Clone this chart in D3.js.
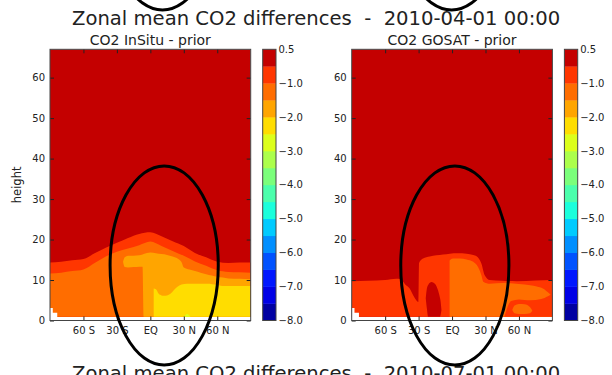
<!DOCTYPE html>
<html>
<head>
<meta charset="utf-8">
<script src="https://cdn.jsdelivr.net/npm/d3@7"></script>
<style>
  body { margin: 0; background: #fff; }
  svg { display: block; font-family: "DejaVu Sans", sans-serif; }
</style>
</head>
<body>
<svg id="chart" width="612" height="375"></svg>
<script>
// ---- values ----
const levels = [-8.0, -7.5, -7.0, -6.5, -6.0, -5.5, -5.0, -4.5, -4.0, -3.5, -3.0, -2.5, -2.0, -1.5, -1.0, -0.5, 0.5];
const cbTicks = [-8, -7, -6, -5, -4, -3, -2, -1, 0.5];
const latTicks = [-60, -30, 0, 30, 60];
const latTickLabels = ['60 S', '30 S', 'EQ', '30 N', '60 N'];
const heightTicks = [0, 10, 20, 30, 40, 50, 60];
const titles = ['Zonal mean CO2 differences  -  2010-04-01 00:00', 'Zonal mean CO2 differences  -  2010-07-01 00:00'];
const panelTitles = ['CO2 InSitu - prior', 'CO2 GOSAT - prior'];

// layer index in levels (layer i spans levels[i]..levels[i+1])
const DARK_RED = 15, RED_ORANGE = 14, ORANGE = 13, LIGHT_ORANGE = 12, YELLOW = 11, YELLOW_GREEN = 10;

const dataBottom = 0.9;
const maskLat = [-90, -87.5, -83.5];     // missing data near the ground (antarctica)
const maskTop = [3.1, 1.9, 1.9];

// InSitu - prior: heights of the colour boundaries
const insituLat = [-90, -80, -70, -60, -50, -40, -30, -20, -10, 0, 10, 20, 30, 40, 50, 60, 70, 80, 90];
const insituTop05 = [14.3, 14.5, 14.9, 15.2, 16.6, 18.0, 19.2, 20.4, 21.4, 21.8, 20.8, 19.6, 18.4, 16.7, 15.6, 14.5, 14.2, 14.3, 14.3];
const insituTop10 = [11.6, 11.8, 12.2, 12.6, 14.2, 15.8, 17.0, 17.8, 18.6, 19.5, 18.4, 17.2, 16.0, 14.6, 13.5, 12.4, 12.0, 11.9, 11.8];
const insituCapLat = [-24.5, -23, -20, -15, -10, -7, -6, 0, 5, 10, 15, 20, 25, 28, 30, 35, 40, 45, 50, 55, 60, 65, 70, 80, 90];
const insituCapTop = [14.5, 15.6, 16.0, 16.0, 16.1, 16.3, 16.4, 16.8, 16.6, 16.4, 16.2, 15.8, 15.2, 14.4, 13.1, 12.6, 12.2, 11.8, 11.4, 11.1, 10.8, 10.6, 10.4, 10.3, 10.2];
const insituCapBottom = [14.5, 13.2, 13.1, 13.2, 13.3, 13.3, 0.9, 0.9, 0.9, 0.9, 0.9, 0.9, 0.9, 0.9, 0.9, 0.9, 0.9, 0.9, 0.9, 0.9, 0.9, 0.9, 0.9, 0.9, 0.9];
const insituYellowLat = [3, 5, 7.5, 10, 12, 15, 18, 21, 24, 28, 33, 40, 51, 60, 66, 75, 90];
const insituYellowTop = [7.9, 7.7, 6.6, 6.2, 6.1, 6.2, 6.6, 7.5, 8.3, 8.9, 9.1, 9.1, 9.1, 8.8, 8.5, 8.5, 8.5];
const insituGreenLat = [30, 33, 36];
const insituGreenTop = [0.9, 1.6, 0.9];

// GOSAT - prior
const gosatTopLat = [-90, -75, -60, -50, -46, -42, -38, -34, -30.2, -29.6, -26, -20, -14, -8, -2, 5, 13, 19, 22, 26.3, 29.3, 33.8, 45, 58, 75, 90];
const gosatTop05 = [9.7, 9.8, 10.0, 10.3, 10.2, 8.9, 7.9, 5.8, 4.6, 14.2, 15.3, 15.8, 16.1, 16.3, 16.5, 16.6, 16.5, 16.2, 15.9, 14.1, 11.2, 10.0, 9.8, 9.7, 9.9, 10.0];
const gosatOrangeLat = [-2.2, -1.5, 1, 7, 13, 19, 23.3, 26.3, 28, 34, 40, 49, 60, 70, 76, 81.5, 87.5, 90];
const gosatOrangeTop = [14.8, 15.0, 15.3, 15.3, 15.1, 14.5, 13.2, 11.2, 9.6, 9.1, 9.2, 9.3, 9.0, 8.7, 8.4, 7.9, 6.6, 6.0];
const gosatBlobLat = [-23.6, -22.5, -21.4, -18.4, -15.4, -12.5, -11, -10.2, -9.5];
const gosatBlobTop = [5.5, 8.0, 8.8, 9.5, 9.1, 7.4, 5.8, 4.6, 2.6];
const gosatBlobBottom = [5.5, 2.8, 0.9, 0.9, 0.9, 0.9, 0.9, 1.5, 2.6];
const gosatPatchLat = [47, 50, 53, 60, 70, 80, 86, 90];
const gosatPatchTop = [0.9, 3.5, 4.8, 5.2, 5.0, 5.3, 6.0, 6.6];
const gosatPatchBlobLat = [54, 56, 60, 65, 70, 72];
const gosatPatchBlobTop = [2.6, 3.7, 4.1, 4.0, 3.3, 2.4];
const gosatPatchBlobBottom = [2.6, 1.8, 1.6, 1.6, 1.8, 2.4];

// hand drawn ellipses on top of the figure (centre lat/height, half sizes)
const notes = [
  {panel: 0, lat: 12.4, h: 13.6, dLat: 48.5, dH: 24.6},
  {panel: 1, lat: 2.5, h: 13.6, dLat: 48.5, dH: 24.6},
  {panel: 0, lat: 10.9, h: 101.3, dLat: 48.5, dH: 24.6},
  {panel: 1, lat: -0.4, h: 101.3, dLat: 48.5, dH: 24.6}
];

// ---- jet colormap, as in matplotlib ----
const jetR = d3.scaleLinear().domain([0, 0.35, 0.66, 0.89, 1]).range([0, 0, 1, 1, 0.5]).clamp(true);
const jetG = d3.scaleLinear().domain([0, 0.125, 0.375, 0.64, 0.91, 1]).range([0, 0, 1, 1, 0, 0]).clamp(true);
const jetB = d3.scaleLinear().domain([0, 0.11, 0.34, 0.65, 1]).range([0.5, 1, 1, 0, 0]).clamp(true);
const jet = t => d3.rgb(jetR(t) * 255, jetG(t) * 255, jetB(t) * 255).formatHex();
const layerColor = i => {
  const mid = (levels[i] + levels[i + 1]) / 2;
  return jet((mid - levels[0]) / (levels[levels.length - 1] - levels[0]));
};

const zip = (lat, top, bottom) => lat.map((d, i) => ({lat: d, top: top[i], bottom: bottom ? bottom[i] : dataBottom}));

const panels = [
  {
    x0: 50, title: panelTitles[0], ylabel: 'height',
    shapes: [
      {layer: RED_ORANGE, pts: zip(insituLat, insituTop05)},
      {layer: ORANGE, pts: zip(insituLat, insituTop10)},
      {layer: LIGHT_ORANGE, pts: zip(insituCapLat, insituCapTop, insituCapBottom)},
      {layer: YELLOW, pts: zip(insituYellowLat, insituYellowTop)},
      {layer: YELLOW_GREEN, pts: zip(insituGreenLat, insituGreenTop)}
    ]
  },
  {
    x0: 351.7, title: panelTitles[1], ylabel: null,
    shapes: [
      {layer: RED_ORANGE, pts: zip(gosatTopLat, gosatTop05)},
      {layer: ORANGE, pts: zip(gosatOrangeLat, gosatOrangeTop)},
      {layer: RED_ORANGE, pts: zip(gosatPatchLat, gosatPatchTop)},
      {layer: ORANGE, pts: zip(gosatPatchBlobLat, gosatPatchBlobTop, gosatPatchBlobBottom)},
      {layer: DARK_RED, pts: zip(gosatBlobLat, gosatBlobTop, gosatBlobBottom)}
    ]
  }
];

const config = {plotWidth: 200.7, top: 49.3, bottom: 320.5, cbGap: 12, cbWidth: 13.3, yMax: 67};
const svg = d3.select('#chart');
const textColor = '#222';

// figure titles (top one and the cut off one below)
svg.append('text')
    .attr('x', 72).attr('y', 25)
    .style('font-size', '19.6px').style('white-space', 'pre')
    .attr('fill', textColor)
    .text(titles[0]);
svg.append('text')
    .attr('x', 72).attr('y', 380)
    .style('font-size', '19.6px').style('white-space', 'pre')
    .attr('fill', textColor)
    .text(titles[1]);

const yScale = d3.scaleLinear().domain([0, config.yMax]).range([config.bottom, config.top]);

panels.forEach((p, pi) => {
  const xScale = d3.scaleLinear().domain([-90, 90]).range([p.x0, p.x0 + config.plotWidth]);
  const g = svg.append('g');

  const clipId = 'clip' + pi;
  svg.append('clipPath').attr('id', clipId)
    .append('rect')
      .attr('x', p.x0).attr('y', config.top)
      .attr('width', config.plotWidth).attr('height', config.bottom - config.top);

  const field = g.append('g').attr('clip-path', `url(#${clipId})`);

  // everything above the lower bands is the top layer
  field.append('rect')
      .attr('x', xScale(-90)).attr('y', yScale(config.yMax))
      .attr('width', xScale(90) - xScale(-90))
      .attr('height', yScale(dataBottom) - yScale(config.yMax))
      .attr('fill', layerColor(DARK_RED));

  const area = d3.area()
      .x(d => xScale(d.lat))
      .y0(d => yScale(d.bottom))
      .y1(d => yScale(d.top))
      .curve(d3.curveMonotoneX);

  field.selectAll('.band')
      .data(p.shapes)
    .join('path')
      .attr('class', 'band')
      .attr('d', d => area(d.pts))
      .attr('fill', d => layerColor(d.layer));

  const maskArea = d3.area()
      .x(d => xScale(d.lat))
      .y0(yScale(0))
      .y1(d => yScale(d.top))
      .curve(d3.curveStepAfter);
  field.append('path')
      .attr('d', maskArea(zip(maskLat, maskTop)))
      .attr('fill', '#fff');

  // axes, ticks pointing inwards on all four sides
  const xAxis = d3.axisBottom(xScale).tickValues(latTicks)
      .tickFormat((d, i) => latTickLabels[i]).tickSize(-4).tickPadding(6);
  const yAxis = d3.axisLeft(yScale).tickValues(heightTicks).tickSize(-4).tickPadding(5);

  g.append('g').attr('transform', `translate(0,${config.bottom})`)
      .call(xAxis)
      .call(a => a.select('.domain').remove());
  g.append('g').attr('transform', `translate(0,${config.top})`)
      .call(d3.axisTop(xScale).tickValues(latTicks).tickSize(-4).tickFormat(''))
      .call(a => a.select('.domain').remove());
  g.append('g').attr('transform', `translate(${p.x0},0)`)
      .call(yAxis)
      .call(a => a.select('.domain').remove());
  g.append('g').attr('transform', `translate(${p.x0 + config.plotWidth},0)`)
      .call(d3.axisRight(yScale).tickValues(heightTicks).tickSize(-4).tickFormat(''))
      .call(a => a.select('.domain').remove());

  g.selectAll('.tick text')
      .style('font-family', '"DejaVu Sans", sans-serif')
      .style('font-size', '10px')
      .attr('fill', textColor);
  g.selectAll('.tick line').attr('stroke', '#222');

  g.append('rect')
      .attr('x', p.x0).attr('y', config.top)
      .attr('width', config.plotWidth).attr('height', config.bottom - config.top)
      .attr('fill', 'none').attr('stroke', '#444').attr('stroke-width', 1);

  g.append('text')
      .attr('x', p.x0 + config.plotWidth / 2).attr('y', 45)
      .attr('text-anchor', 'middle')
      .style('font-size', '14px')
      .attr('fill', textColor)
      .text(p.title);

  if (p.ylabel) {
    g.append('text')
        .attr('transform', `translate(20.5,${(config.top + config.bottom) / 2}) rotate(-90)`)
        .attr('text-anchor', 'middle')
        .style('font-size', '11.5px')
        .attr('fill', textColor)
        .text(p.ylabel);
  }

  // colorbar, one equal block per layer
  const cbX = p.x0 + config.plotWidth + config.cbGap;
  const cbScale = d3.scaleLinear().domain([0, levels.length - 1]).range([config.bottom, config.top]);
  const cb = g.append('g');
  cb.selectAll('rect')
      .data(d3.range(levels.length - 1))
    .join('rect')
      .attr('x', cbX)
      .attr('y', i => cbScale(i + 1))
      .attr('width', config.cbWidth)
      .attr('height', i => cbScale(i) - cbScale(i + 1) + 0.3)
      .attr('fill', i => layerColor(i));
  cb.append('rect')
      .attr('x', cbX).attr('y', config.top)
      .attr('width', config.cbWidth).attr('height', config.bottom - config.top)
      .attr('fill', 'none').attr('stroke', '#444').attr('stroke-width', 1);
  cb.selectAll('.cblabel')
      .data(cbTicks)
    .join('text')
      .attr('class', 'cblabel')
      .attr('x', cbX + config.cbWidth + 2.5)
      .attr('y', d => cbScale(levels.indexOf(d)))
      .attr('dy', '0.35em')
      .style('font-size', '10px')
      .attr('fill', textColor)
      .text(d => d === 0.5 ? '0.5' : d3.format('.1f')(d));
});

// ellipses drawn over the figure
notes.forEach(n => {
  const p = panels[n.panel];
  const xScale = d3.scaleLinear().domain([-90, 90]).range([p.x0, p.x0 + config.plotWidth]);
  svg.append('ellipse')
      .attr('cx', xScale(n.lat))
      .attr('cy', yScale(n.h))
      .attr('rx', xScale(n.lat + n.dLat) - xScale(n.lat))
      .attr('ry', yScale(n.h - n.dH) - yScale(n.h))
      .attr('fill', 'none')
      .attr('stroke', '#000')
      .attr('stroke-width', 3);
});
</script>
</body>
</html>
